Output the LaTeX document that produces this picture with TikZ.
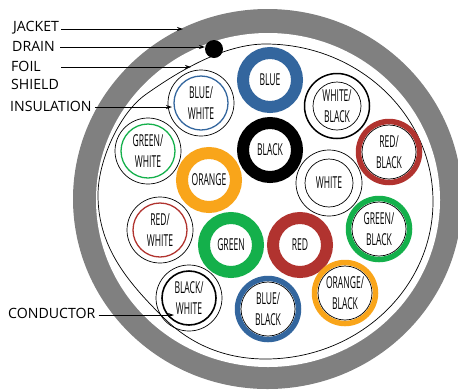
\documentclass[tikz,border=0pt]{standalone}
\usepackage{fontspec}
\setmainfont{Open Sans}
\newfontfamily\wirefont[FakeStretch=0.52]{Open Sans}
\definecolor{jacketgrey}{HTML}{808080}
\definecolor{wblue}{HTML}{33669E}
\definecolor{worange}{HTML}{F9A51A}
\definecolor{wgreen}{HTML}{14B04B}
\definecolor{wred}{HTML}{B1332F}
\usetikzlibrary{arrows.meta}
\tikzset{
  wiretext/.style={font=\wirefont\fontsize{16.5}{20.5}\selectfont,align=center,text=black},
  basewire/.style={circle,inner sep=0pt,outer sep=0pt,wiretext},
  solidwire/.style={basewire,draw=#1,line width=12bp,minimum size=54bp},
  thinouter/.style={circle,inner sep=0pt,outer sep=0pt,draw=black,line width=0.7bp,minimum size=66bp},
  colorinner/.style={basewire,draw=#1,line width=1.3bp,minimum size=54bp},
  thickouter/.style={circle,inner sep=0pt,outer sep=0pt,draw=#1,line width=5.5bp,minimum size=61bp},
  thininner/.style={basewire,draw=black,line width=0.7bp,minimum size=54bp},
  blackouter/.style={circle,inner sep=0pt,outer sep=0pt,draw=black,line width=1.5bp,minimum size=65bp},
  calllabel/.style={anchor=west,inner sep=0pt,font=\fontsize{14.2}{15}\selectfont,text=black},
  callout/.style={draw=black,line width=0.8bp,-{Stealth[length=6bp,width=4bp]}},
}
\begin{document}
\begin{tikzpicture}[x=1bp,y=-1bp]
\useasboundingbox (0,0) rectangle (458,389);
\begin{scope}
\clip (0,0) rectangle (458,389);
\fill[jacketgrey] (267.5,199) ellipse [x radius=194.5,y radius=190];
\fill[white] (268,200) ellipse [x radius=172,y radius=167];
\end{scope}
\draw[black,line width=0.7bp] (265.5,44) .. controls (358,44) and (433,114.5) .. (433,201.5)
  .. controls (433,288.5) and (358,359) .. (265.5,359)
  .. controls (232,359) and (196,349) .. (165,319)
  .. controls (125,280) and (98,245) .. (98,195)
  .. controls (98,160) and (120,113) .. (145,95)
  .. controls (180,70) and (225,44) .. (265.5,44) -- cycle;
\node[circle,fill=black,inner sep=0pt,minimum size=18bp] (drainwire) at (214,49) {};

\node[solidwire=wblue] (blue) at (270,80) {BLUE};
\node[solidwire=black] (black) at (270,150) {BLACK};
\node[solidwire=worange] (orange) at (209,180) {ORANGE};
\node[solidwire=wgreen] (green) at (231,245) {GREEN};
\node[solidwire=wred] (red) at (300,245) {RED};

\node[thinouter] (bwo) at (201,103) {};
\node[colorinner=wblue] (bw) at (201,103) {BLUE/\\WHITE};
\node[thinouter] (gwo) at (148,151) {};
\node[colorinner=wgreen] (gw) at (148,151) {GREEN/\\WHITE};
\node[thinouter] (rwo) at (160,230) {};
\node[colorinner=wred] (rw) at (160,230) {RED/\\WHITE};
\node[thinouter] (kwo) at (189,298) {};
\node[colorinner=black,line width=1.6bp] (kw) at (189,298) {BLACK/\\WHITE};

\node[blackouter] (wko) at (337,106) {};
\node[thininner,minimum size=48bp] (wk) at (337,106) {WHITE/\\BLACK};
\node[thinouter] (wo) at (329,183) {};
\node[thininner,minimum size=48bp] (w) at (329,183) {WHITE};

\node[thickouter=wred] (rko) at (389,152) {};
\node[thininner] (rk) at (389,152) {RED/\\BLACK};
\node[thickouter=wgreen] (gko) at (379,229) {};
\node[thininner] (gk) at (379,229) {GREEN/\\BLACK};
\node[thickouter=worange] (oko) at (345,293) {};
\node[thininner] (ok) at (345,293) {ORANGE/\\BLACK};
\node[thickouter=wblue] (bko) at (268,309) {};
\node[thininner] (bk) at (268,309) {BLUE/\\BLACK};

\node[calllabel] (jacket) at (13,28) {JACKET};
\node[calllabel] (drain) at (12,46) {DRAIN};
\node[calllabel] (foil) at (11,66) {FOIL};
\node[calllabel] (shield) at (11,84) {SHIELD};
\node[calllabel] (insulation) at (10,106) {INSULATION};
\node[calllabel] (conductor) at (8,313) {CONDUCTOR};

\coordinate (jacketend) at (183,29);
\coordinate (drainend) at (205,47);
\coordinate (foilend) at (191,67);
\coordinate (insulationend) at (172,107);
\coordinate (conductorend) at (174,315);
\draw[callout] ([xshift=2bp]jacket.east |- jacketend) -- (jacketend);
\draw[callout] ([xshift=5bp]drain.east |- drainend) -- (drainend);
\draw[callout] ([xshift=20bp]foil.east |- foilend) -- (foilend);
\draw[callout] ([xshift=3bp]insulation.east |- insulationend) -- (insulationend);
\draw[callout] ([xshift=3bp]conductor.east |- conductorend) -- (conductorend);
\end{tikzpicture}
\end{document}
